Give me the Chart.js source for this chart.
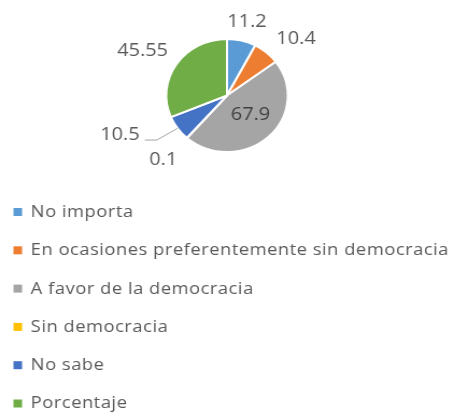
<!DOCTYPE html>
<html><head><meta charset="utf-8">
<script src="https://cdn.jsdelivr.net/npm/chart.js@4.4.0/dist/chart.umd.min.js"></script>
<style>
html,body{margin:0;padding:0;background:#fff;overflow:hidden;}
#wrap{width:454px;height:414px;position:relative;overflow:hidden;background:#fff;}
#c{position:absolute;left:0;top:0;transform-origin:0 0;transform:scaleX(1.0758);}
</style></head><body>
<div id="wrap"><canvas id="c" width="422" height="414"></canvas></div>
<script>
const categories = ["No importa","En ocasiones preferentemente sin democracia","A favor de la democracia","Sin democracia","No sabe","Porcentaje"];
const values = [11.2, 10.4, 67.9, 0.1, 10.5, 45.55];
const valueLabels = ["11.2","10.4","67.9","0.1","10.5","45.55"];
const colors = ["#5B9BD5","#ED7D31","#A5A5A5","#FFC000","#4472C4","#70AD47"];

const labelPlugin = {
  id: 'sliceLabels',
  afterDatasetsDraw(chart, args, opts) {
    const ctx = chart.ctx;
    const meta = chart.getDatasetMeta(0);
    ctx.save();
    ctx.font = opts.font;
    ctx.textAlign = 'center';
    ctx.textBaseline = 'middle';
    meta.data.forEach((arc, i) => {
      const p = arc.getProps(['x','y','startAngle','endAngle','outerRadius'], true);
      const mid = (p.startAngle + p.endAngle) / 2;
      const pl = opts.placement[i];
      const a = mid + pl.da * Math.PI / 180;
      const d = p.outerRadius * pl.k;
      const tx = p.x + Math.cos(a) * d, ty = p.y + Math.sin(a) * d;
      if (pl.leader) {
        const w = ctx.measureText(valueLabels[i]).width;
        const ex = p.x + Math.cos(mid) * p.outerRadius, ey = p.y + Math.sin(mid) * p.outerRadius;
        const sx = tx + w / 2 + 5;
        ctx.beginPath();
        ctx.strokeStyle = opts.leaderColor;
        ctx.lineWidth = 1;
        ctx.moveTo(sx, ty + 5);
        ctx.lineTo(sx + 11, ty + 5);
        ctx.lineTo(ex, ey);
        ctx.stroke();
      }
      ctx.fillStyle = pl.inside ? opts.insideColor : opts.color;
      ctx.fillText(valueLabels[i], tx, ty);
    });
    ctx.restore();
  }
};

const legendPlugin = {
  id: 'colLegend',
  afterDraw(chart, args, opts) {
    const ctx = chart.ctx;
    ctx.save();
    ctx.font = opts.font;
    if ('letterSpacing' in ctx) ctx.letterSpacing = opts.letterSpacing;
    ctx.textBaseline = 'alphabetic';
    ctx.textAlign = 'left';
    const ds = chart.data.datasets[0];
    chart.data.labels.forEach((lab, i) => {
      const y = opts.top + i * opts.spacing;
      ctx.fillStyle = ds.backgroundColor[i];
      ctx.fillRect(opts.x, y - opts.box / 2, opts.box, opts.box);
      ctx.fillStyle = opts.color;
      ctx.fillText(lab, opts.textX, y + opts.baseShift);
    });
    ctx.restore();
  }
};

new Chart(document.getElementById('c'), {
  type: 'pie',
  data: {
    labels: categories,
    datasets: [{
      data: values,
      backgroundColor: colors,
      borderColor: '#ffffff',
      borderWidth: 2
    }]
  },
  options: {
    responsive: false,
    animation: false,
    layout: { padding: { top: 38, bottom: 261, left: 0, right: 0 } },
    plugins: {
      legend: { display: false },
      tooltip: { enabled: false },
      sliceLabels: {
        font: "18.5px 'Open Sans'",
        color: '#595959',
        insideColor: '#404040',
        leaderColor: '#A6A6A6',
        placement: [
          { k: 1.344, da: 0.3 },
          { k: 1.513, da: 8.1 },
          { k: 0.515, da: -6.1, inside: true },
          { k: 1.548, da: 1.3 },
          { k: 1.896, da: 13.9, leader: true },
          { k: 1.598, da: -4 }
        ]
      },
      colLegend: {
        font: "17px 'Open Sans'",
        letterSpacing: '0.5px',
        color: '#595959',
        x: 12.5, textX: 28.6, box: 8,
        top: 212, spacing: 38.3, baseShift: 4.9
      }
    }
  },
  plugins: [labelPlugin, legendPlugin]
});
</script>
</body></html>
